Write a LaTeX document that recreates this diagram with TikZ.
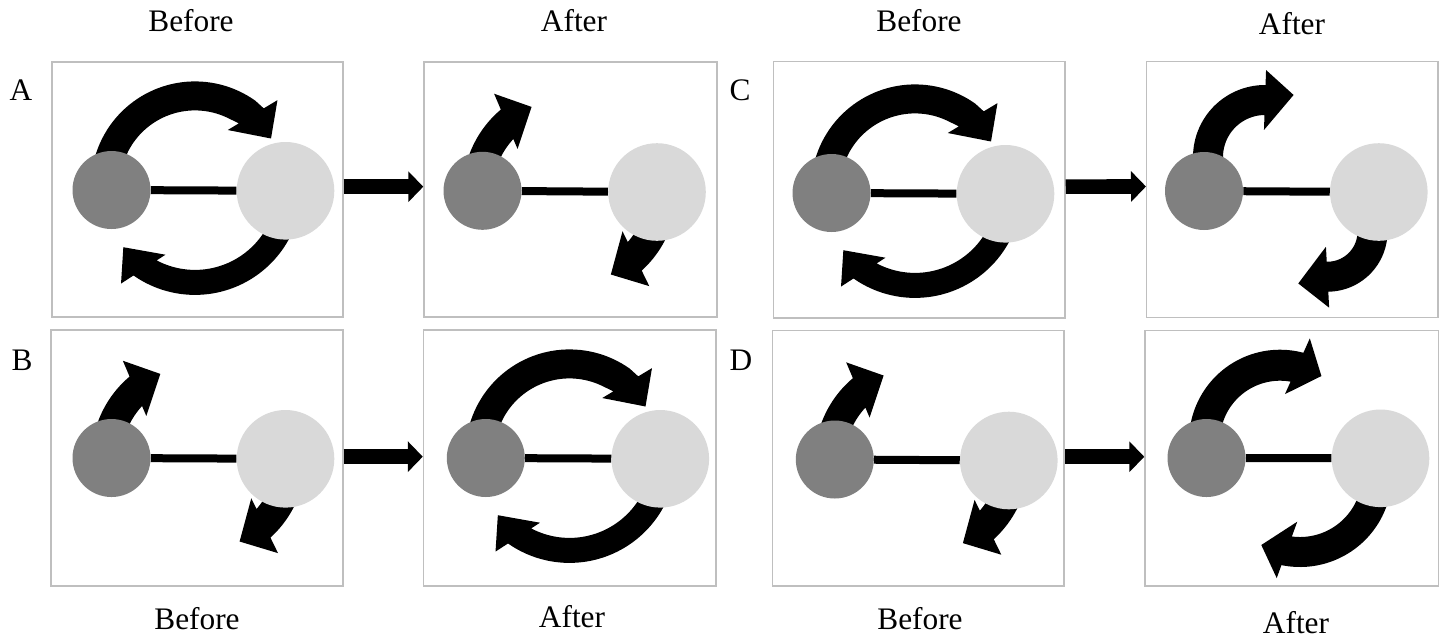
\documentclass[tikz,border=0pt]{standalone}
\usepackage{fontspec}
\setmainfont{Liberation Serif}
\usetikzlibrary{arrows.meta,fit}
\definecolor{ballDark}{HTML}{808080}
\definecolor{ballLight}{HTML}{D9D9D9}
\definecolor{frameGray}{HTML}{BFBFBF}
\newcommand\arrHO{16}
\newcommand\arrHI{13}
% curved block arrow: cx, cy, R, r, start angle, end angle, base tilt, tip deviation, tip length
\newcommand\carrow[9]{%
  \pgfmathsetmacro\cRm{(#3+#4)/2}%
  \pgfmathsetmacro\cHw{(#3-#4)/2}%
  \pgfmathsetmacro\cMx{#1+\cRm*cos(#6)}%
  \pgfmathsetmacro\cMy{#2+\cRm*sin(#6)}%
  \pgfmathsetmacro\cUx{cos(#6+#7)}%
  \pgfmathsetmacro\cUy{sin(#6+#7)}%
  \pgfmathsetmacro\cONx{\cMx+\cHw*\cUx}%
  \pgfmathsetmacro\cONy{\cMy+\cHw*\cUy}%
  \pgfmathsetmacro\cINx{\cMx-\cHw*\cUx}%
  \pgfmathsetmacro\cINy{\cMy-\cHw*\cUy}%
  \pgfmathsetmacro\cOBx{\cMx+(\cHw+\arrHO)*\cUx}%
  \pgfmathsetmacro\cOBy{\cMy+(\cHw+\arrHO)*\cUy}%
  \pgfmathsetmacro\cIBx{\cMx-(\cHw+\arrHI)*\cUx}%
  \pgfmathsetmacro\cIBy{\cMy-(\cHw+\arrHI)*\cUy}%
  \pgfmathsetmacro\cTx{\cMx+#9*cos(#6+90+#8)}%
  \pgfmathsetmacro\cTy{\cMy+#9*sin(#6+90+#8)}%
  \pgfmathsetmacro\cAo{atan2(\cONy-#2,\cONx-#1)}%
  \pgfmathsetmacro\cAi{atan2(\cINy-#2,\cINx-#1)}%
  \fill[curly] plot[domain=#5:\cAo,samples=50,variable=\t] ({#1+#3*cos(\t)},{#2+#3*sin(\t)})
    -- (\cONx,\cONy) -- (\cOBx,\cOBy) -- (\cTx,\cTy) -- (\cIBx,\cIBy) -- (\cINx,\cINy)
    -- plot[domain=\cAi:#5,samples=50,variable=\t] ({#1+#4*cos(\t)},{#2+#4*sin(\t)})
    -- cycle;}
\newcommand\bigtop[2]{\renewcommand\arrHO{16}\renewcommand\arrHI{13}\carrow{#1-3.5}{#2-5}{104}{75}{-185}{-51}{20}{10}{30}}
\newcommand\bigbot[2]{\renewcommand\arrHO{16}\renewcommand\arrHI{12}\carrow{#1-3.5}{#2-2.5}{107}{82}{10}{122}{25}{12}{30}}
\newcommand\smalltop[2]{\renewcommand\arrHO{18}\renewcommand\arrHI{12}\carrow{#1}{#2}{107}{77}{-185}{-133}{20}{8}{30}}
\newcommand\smallbot[2]{\renewcommand\arrHO{18}\renewcommand\arrHI{13}\carrow{#1}{#2}{107}{77}{5}{45}{19}{8}{30}}
\begin{document}
\begin{tikzpicture}[x=0.75pt,y=-0.75pt,
  panel/.style={draw=frameGray,line width=1.1pt,inner sep=0pt},
  dball/.style={circle,fill=ballDark,minimum size=58.5pt,inner sep=0pt},
  lball/.style={circle,fill=ballLight,minimum size=73.2pt,inner sep=0pt},
  bond/.style={line width=6pt},
  curly/.style={fill=black},
  shiftarrow/.style={line width=11pt,-{Triangle[length=11.25pt,width=22.5pt]}},
  lbl/.style={font=\fontsize{23.5}{28}\selectfont,anchor=base,inner sep=0pt}]
\useasboundingbox (0,0) rectangle (1444,637);
\fill[white] (0,0) rectangle (1444,637);
% panels
\node[panel,fit={(52,62) (343,317)}] (A1) {};
\node[panel,fit={(424,62) (717,317)}] (A2) {};
\node[panel,fit={(51,330) (343,586)}] (B1) {};
\node[panel,fit={(423.5,330) (716,586)}] (B2) {};
\node[panel,fit={(773.3,61.7) (1065,318)}] (C1) {};
\node[panel,fit={(1146.7,61.7) (1438,317.7)}] (C2) {};
\node[panel,fit={(772.3,330.7) (1064,586)}] (D1) {};
\node[panel,fit={(1145,330.7) (1438.3,586)}] (D2) {};
% curved arrows
\bigtop{198.5}{190.4}\bigbot{198.5}{190.4}
\smalltop{569.75}{191.4}\smallbot{569.75}{191.4}
\smalltop{198.5}{458.4}\smallbot{198.5}{458.4}
\bigtop{573}{458.4}\bigbot{573}{458.4}
\bigtop{918.5}{193.4}\bigbot{918.5}{193.4}
\renewcommand\arrHO{15}\renewcommand\arrHI{15}\carrow{1265}{157}{72}{42}{-210}{-90}{2}{-10}{29}
\renewcommand\arrHO{16}\renewcommand\arrHI{15}\carrow{1327.5}{231.7}{60}{30}{-30}{90}{-3}{-13}{30}
\smalltop{921.8}{460}\smallbot{921.8}{460}
\renewcommand\arrHO{16}\renewcommand\arrHI{14}\carrow{1280}{440.7}{91}{60}{-200}{-77}{11}{7}{26}
\renewcommand\arrHO{14}\renewcommand\arrHI{16}\carrow{1300}{475}{92}{62}{0}{100}{10}{3}{26}
% molecules
\node[dball] (A1d) at (111.5,190) {};
\node[lball] (A1l) at (285.5,190.8) {};
\node[dball] (A2d) at (482.5,190.8) {};
\node[lball] (A2l) at (657,192) {};
\node[dball] (B1d) at (111.5,458) {};
\node[lball] (B1l) at (285.5,458.8) {};
\node[dball] (B2d) at (485.8,458) {};
\node[lball] (B2l) at (660.3,458.8) {};
\node[dball] (C1d) at (831.5,193) {};
\node[lball] (C1l) at (1005.5,193.8) {};
\node[dball] (C2d) at (1204,191) {};
\node[lball] (C2l) at (1378.8,192) {};
\node[dball] (D1d) at (834.8,459.5) {};
\node[lball] (D1l) at (1008.8,460.5) {};
\node[dball] (D2d) at (1206.5,458) {};
\node[lball] (D2l) at (1380.5,458.3) {};
\foreach \p in {A1,A2,B1,B2,C1,C2,D1,D2}{\draw[bond] (\p d) -- (\p l);}
% transitions
\draw[shiftarrow] ([yshift=2.1pt]A1.east) -- ([yshift=2.1pt]A2.west);
\draw[shiftarrow] ([yshift=1pt]B1.east) -- ([yshift=1pt]B2.west);
\draw[shiftarrow] ([yshift=2.4pt]C1.east) -- ([yshift=2.4pt]C2.west);
\draw[shiftarrow] ([yshift=1.2pt]D1.east) -- ([yshift=1.2pt]D2.west);
% labels
\node[lbl] (tA) at (21,100) {A};
\node[lbl] (tB) at (22,370) {B};
\node[lbl] (tC) at (740,100.7) {C};
\node[lbl] (tD) at (741,370) {D};
\node[lbl] (hA1) at (191,31) {Before};
\node[lbl] (hA2) at (574,31) {After};
\node[lbl] (hC1) at (919,31) {Before};
\node[lbl] (hC2) at (1292,34) {After};
\node[lbl] (fB1) at (197,629) {Before};
\node[lbl] (fB2) at (572,627) {After};
\node[lbl] (fD1) at (920,629) {Before};
\node[lbl] (fD2) at (1296,633) {After};
\end{tikzpicture}
\end{document}
